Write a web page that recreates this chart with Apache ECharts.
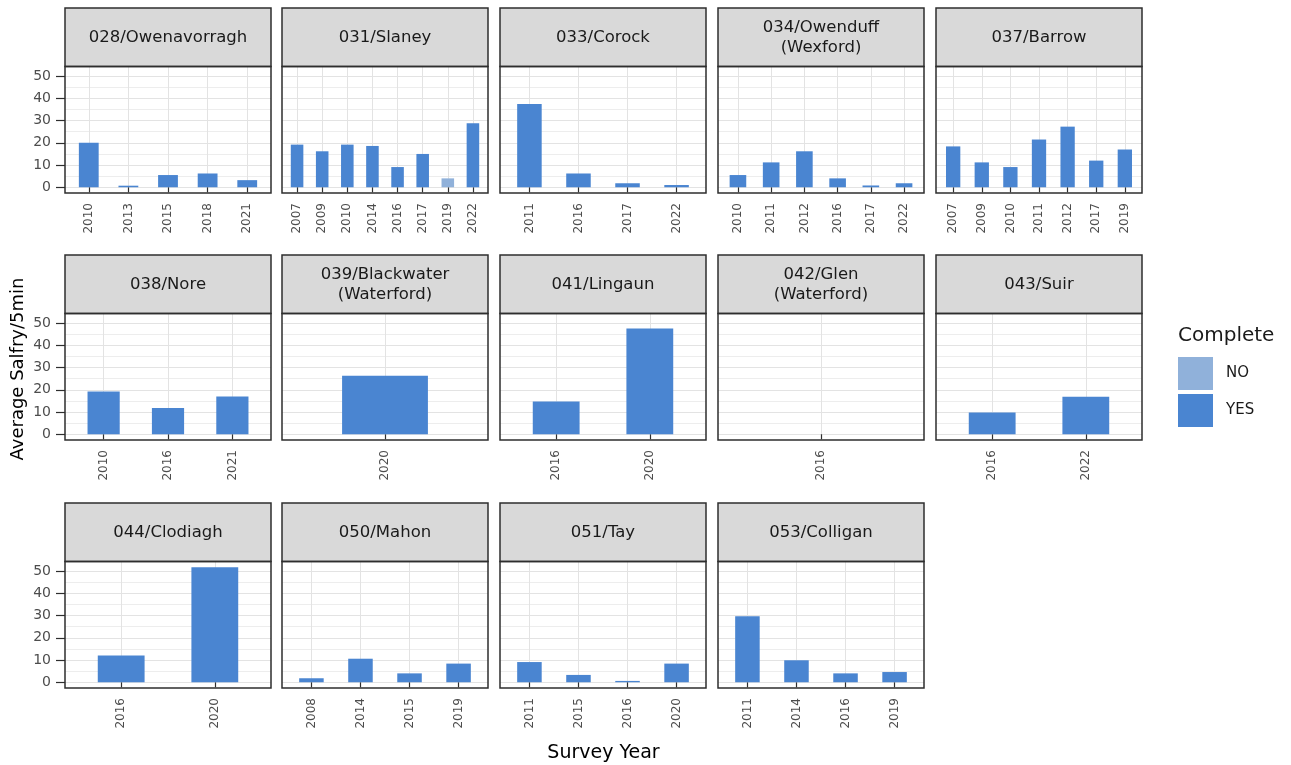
<!DOCTYPE html>
<html>
<head>
<meta charset="utf-8">
<script src="https://cdn.jsdelivr.net/npm/echarts@6/dist/echarts.min.js"></script>
<style>
  html, body { margin: 0; padding: 0; background: #ffffff; }
  #chart { width: 1291px; height: 765px; }
</style>
</head>
<body>
<div id="chart"></div>
<script>
// ---- Salmon fry survey results: average salfry per 5 minutes, by site and survey year ----
const siteNames = [
  '028/Owenavorragh', '031/Slaney', '033/Corock', '034/Owenduff\n(Wexford)', '037/Barrow',
  '038/Nore', '039/Blackwater\n(Waterford)', '041/Lingaun', '042/Glen\n(Waterford)', '043/Suir',
  '044/Clodiagh', '050/Mahon', '051/Tay', '053/Colligan'
];

const yearsOwenavorragh = ['2010', '2013', '2015', '2018', '2021'];
const salfryOwenavorragh = [20, 0.7, 5.5, 6.2, 3.2];

const yearsSlaney = ['2007', '2009', '2010', '2014', '2016', '2017', '2019', '2022'];
const salfrySlaney = [19.2, 16.2, 19.2, 18.6, 9.1, 15, 4, 28.8];
const completeSlaney = ['YES', 'YES', 'YES', 'YES', 'YES', 'YES', 'NO', 'YES'];

const yearsCorock = ['2011', '2016', '2017', '2022'];
const salfryCorock = [37.5, 6.2, 1.8, 1.0];

const yearsOwenduff = ['2010', '2011', '2012', '2016', '2017', '2022'];
const salfryOwenduff = [5.5, 11.2, 16.2, 4, 0.8, 1.8];

const yearsBarrow = ['2007', '2009', '2010', '2011', '2012', '2017', '2019'];
const salfryBarrow = [18.4, 11.2, 9.1, 21.5, 27.3, 12, 17];

const yearsNore = ['2010', '2016', '2021'];
const salfryNore = [19.2, 11.8, 17];

const yearsBlackwater = ['2020'];
const salfryBlackwater = [26.3];

const yearsLingaun = ['2016', '2020'];
const salfryLingaun = [14.8, 47.6];

const yearsGlen = ['2016'];
const salfryGlen = [null];

const yearsSuir = ['2016', '2022'];
const salfrySuir = [9.8, 16.9];

const yearsClodiagh = ['2016', '2020'];
const salfryClodiagh = [12.1, 51.8];

const yearsMahon = ['2008', '2014', '2015', '2019'];
const salfryMahon = [1.8, 10.6, 4, 8.4];

const yearsTay = ['2011', '2015', '2016', '2020'];
const salfryTay = [9.1, 3.3, 0.6, 8.4];

const yearsColligan = ['2011', '2014', '2016', '2019'];
const salfryColligan = [29.7, 9.9, 4, 4.6];

const yTicks = [0, 10, 20, 30, 40, 50];
const yMinorTicks = [5, 15, 25, 35, 45];
const completeLevels = ['NO', 'YES'];

// ---- assemble facets ----
const siteYears = [yearsOwenavorragh, yearsSlaney, yearsCorock, yearsOwenduff, yearsBarrow,
  yearsNore, yearsBlackwater, yearsLingaun, yearsGlen, yearsSuir,
  yearsClodiagh, yearsMahon, yearsTay, yearsColligan];
const siteSalfry = [salfryOwenavorragh, salfrySlaney, salfryCorock, salfryOwenduff, salfryBarrow,
  salfryNore, salfryBlackwater, salfryLingaun, salfryGlen, salfrySuir,
  salfryClodiagh, salfryMahon, salfryTay, salfryColligan];
const siteComplete = { 1: completeSlaney };

const panels = siteNames.map((name, i) => ({
  name,
  years: siteYears[i],
  values: siteSalfry[i],
  complete: siteComplete[i] || siteYears[i].map(() => 'YES')
}));

// ---- layout & style ----
const FONT = 'DejaVu Sans';
const colLeft = [65, 282, 500, 718, 936];
const panelW = 206;
const stripTop = [8, 255, 503];
const stripH = 58.5;
const plotH = 126.5;
const frameColor = '#2e2e2e';
const fillColor = { YES: '#4a85d1', NO: '#90b1da' };

const allValues = panels.flatMap(p => p.values.filter(v => v != null));
const yPeak = Math.max(...allValues);
const yPad = yPeak * 0.05;

const grid = [], xAxis = [], yAxis = [], series = [], graphic = [];

panels.forEach((p, i) => {
  const row = Math.floor(i / 5), col = i % 5;
  const left = colLeft[col];
  const top = stripTop[row] + stripH;
  const n = p.years.length;
  const positions = p.years.map((_, k) => k + 1);
  const barW = 0.5 * panelW / (n + 0.2);

  // facet strip
  graphic.push({
    type: 'rect', silent: true, z: 5,
    shape: { x: left, y: stripTop[row], width: panelW, height: stripH },
    style: { fill: '#d9d9d9', stroke: frameColor, lineWidth: 1.5 }
  });
  graphic.push({
    type: 'text', silent: true, z: 6,
    x: left + panelW / 2, y: stripTop[row] + stripH / 2,
    style: {
      text: p.name, align: 'center', verticalAlign: 'middle',
      font: '16.5px "' + FONT + '"', fill: '#1a1a1a', lineHeight: 20
    }
  });
  // panel frame, kept above the gridlines
  graphic.push({
    type: 'rect', silent: true, z: 5,
    shape: { x: left, y: top, width: panelW, height: plotH },
    style: { fill: 'none', stroke: frameColor, lineWidth: 1.5 }
  });

  grid.push({
    left, top, width: panelW, height: plotH,
    show: true, backgroundColor: '#ffffff', borderWidth: 0,
    outerBoundsMode: 'none', containLabel: false
  });

  xAxis.push({
    type: 'value', gridIndex: i, min: 0.4, max: n + 0.6,
    axisLine: { show: false },
    axisTick: { show: true, customValues: positions, length: 5, lineStyle: { color: frameColor, width: 1.2 } },
    axisLabel: {
      show: true, customValues: positions, rotate: 90, margin: 10,
      formatter: v => p.years[Math.round(v) - 1],
      fontFamily: FONT, fontSize: 12, color: '#4d4d4d'
    },
    splitLine: { show: true, lineStyle: { color: '#e3e3e3', width: 1 } }
  });

  // major gridlines + labels
  yAxis.push({
    type: 'value', gridIndex: i, min: -yPad, max: yPeak + yPad, position: 'left',
    axisLine: { show: false },
    axisTick: { show: col === 0, customValues: yTicks, length: 9, lineStyle: { color: frameColor, width: 1.2 } },
    axisLabel: {
      show: col === 0, customValues: yTicks, margin: 14,
      fontFamily: FONT, fontSize: 14, color: '#4d4d4d'
    },
    splitLine: { show: true, lineStyle: { color: '#e3e3e3', width: 1 } }
  });
  // minor gridlines
  yAxis.push({
    type: 'value', gridIndex: i, min: -yPad, max: yPeak + yPad, position: 'left',
    axisLine: { show: false },
    axisTick: { show: false, customValues: yMinorTicks },
    axisLabel: { show: false, customValues: yMinorTicks },
    splitLine: { show: true, lineStyle: { color: '#ededed', width: 1 } }
  });

  completeLevels.forEach(flag => {
    const data = [];
    p.years.forEach((y, k) => {
      if (p.complete[k] === flag && p.values[k] != null) data.push([k + 1, p.values[k]]);
    });
    series.push({
      type: 'bar', name: flag, xAxisIndex: i, yAxisIndex: 2 * i,
      barWidth: barW, barGap: '-100%',
      itemStyle: { color: fillColor[flag] },
      silent: true, data
    });
  });
});

// axis titles and legend title
graphic.push({
  type: 'text', silent: true, x: 18, y: 369, rotation: Math.PI / 2,
  style: { text: 'Average Salfry/5min', align: 'center', verticalAlign: 'middle', font: '18px "' + FONT + '"', fill: '#000000' }
});
graphic.push({
  type: 'text', silent: true, x: 603.5, y: 753,
  style: { text: 'Survey Year', align: 'center', verticalAlign: 'middle', font: '19px "' + FONT + '"', fill: '#000000' }
});
graphic.push({
  type: 'text', silent: true, x: 1178, y: 336,
  style: { text: 'Complete', align: 'left', verticalAlign: 'middle', font: '20px "' + FONT + '"', fill: '#1a1a1a' }
});

const chart = echarts.init(document.getElementById('chart'));
chart.setOption({
  animation: false,
  backgroundColor: '#ffffff',
  grid, xAxis, yAxis, series, graphic,
  legend: {
    data: completeLevels,
    orient: 'vertical', left: 1178, top: 357, padding: 0,
    itemWidth: 35, itemHeight: 33, itemGap: 4, icon: 'rect',
    selectedMode: false,
    textStyle: { fontFamily: FONT, fontSize: 15, color: '#1a1a1a', padding: [0, 0, 0, 8] }
  }
});
</script>
</body>
</html>
